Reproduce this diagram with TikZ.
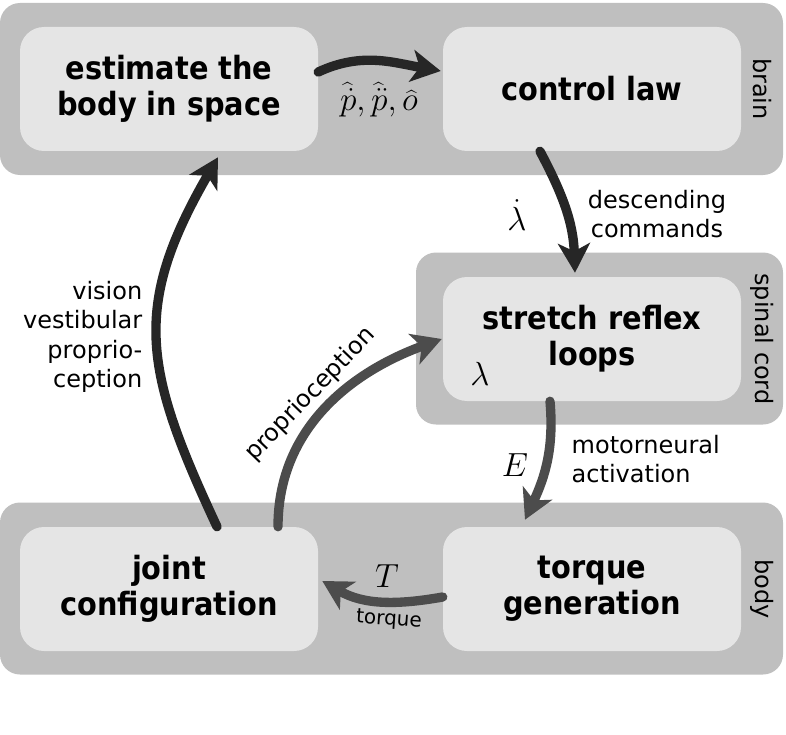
\documentclass[tikz,border=0pt]{standalone}
\usepackage{graphicx}
\usepackage{fontspec}
\setmainfont{DejaVu Sans}
\newfontfamily\condfont{DejaVu Sans Condensed}
\usetikzlibrary{arrows.meta}
\newcommand{\bigmath}[1]{\scalebox{1.45}{$#1$}}

\begin{document}
\begin{tikzpicture}[
    x=0.75pt, y=0.75pt,
    group/.style={fill=black!25, rounded corners=15pt, minimum height=129pt, inner sep=0pt},
    stage/.style={fill=black!10, rounded corners=18pt, minimum width=223.5pt, minimum height=93pt, inner sep=0pt, align=center, font=\condfont\bfseries\fontsize{24}{27}\selectfont},
    side/.style={rotate=-90, font=\fontsize{18}{22}\selectfont},
    lbl/.style={align=center, font=\fontsize{18}{22}\selectfont},
    flow/.style={line width=7pt, line cap=round, -{Stealth[length=22pt, width=24pt, inset=6pt]}},
    dark/.style={flow, draw=black!85},
    mid/.style={flow, draw=black!70}
  ]

  \useasboundingbox (0,0) rectangle (786,-735);

  % levels
  \node[group, minimum width=587.25pt] (brain) at (391.5,-89) {};
  \node[group, minimum width=275.25pt] (spinal) at (599.5,-338.5) {};
  \node[group, minimum width=587.25pt] (body) at (391.5,-588.5) {};

  \node[side] (brainlbl) at (762,-89) {brain};
  \node[side] (spinallbl) at (762,-339) {spinal cord};
  \node[side] (bodylbl) at (762,-589) {body};

  % stages
  \node[stage] (est) at (169,-89) {estimate the\\body in space};
  \node[stage] (ctrl) at (592,-89) {control law};
  \node[stage] (refl) at (592,-339) {stretch reflex\\loops};
  \node[stage] (joint) at (169,-589) {joint\\configuration};
  \node[stage] (torq) at (592,-589) {torque\\generation};

  \node[lbl] (lam) at (480,-374) {\bigmath{\lambda}};

  % brain
  \draw[dark] ([yshift=12.75pt]est.east) to[out=25, in=170] ([xshift=-1.5pt, yshift=13.5pt]ctrl.west);
  \node[lbl] (phat) at (379,-100) {\bigmath{\widehat{\dot{p}},\widehat{\ddot{p}},\widehat{o}}};

  % descending
  \draw[dark] ([xshift=-39pt]ctrl.south) to[out=-62, in=92] ([xshift=-12.75pt, yshift=3pt]refl.north);
  \node[lbl] (lamdot) at (517,-215) {\bigmath{\dot{\lambda}}};
  \node[lbl] (desc) at (657,-214) {descending\\commands};

  % spinal cord to muscles
  \draw[mid] ([xshift=-31.5pt]refl.south) to[out=-85, in=65] ([xshift=-50.25pt, yshift=5.25pt]torq.north);
  \node[lbl] (E) at (515,-465) {\bigmath{E}};
  \node[lbl, align=left, anchor=west] (motor) at (567,-459) {motorneural\\activation};

  % body
  \draw[mid] ([yshift=-6pt]torq.west) to[out=190, in=-30] ([xshift=3pt, yshift=6pt]joint.east);
  \node[lbl] (T) at (387,-576) {\bigmath{T}};
  \node[rotate=-4, font=\fontsize{15}{18}\selectfont] (torquelbl) at (389,-620) {torque};

  % feedback
  \draw[dark] ([xshift=36pt]joint.north) to[out=115, in=-120, looseness=1.2] ([xshift=36.75pt, yshift=-4.5pt]est.south);
  \node[lbl, align=right, anchor=east] (senses) at (147,-337) {vision\\vestibular\\proprio-\\ception};

  \draw[mid] ([xshift=81.75pt]joint.north) to[out=90, in=200]
    node[sloped, above=0pt, pos=0.5, font=\fontsize{18}{22}\selectfont] (propr) {proprioception}
    ([xshift=-0.75pt]refl.west);

\end{tikzpicture}
\end{document}
